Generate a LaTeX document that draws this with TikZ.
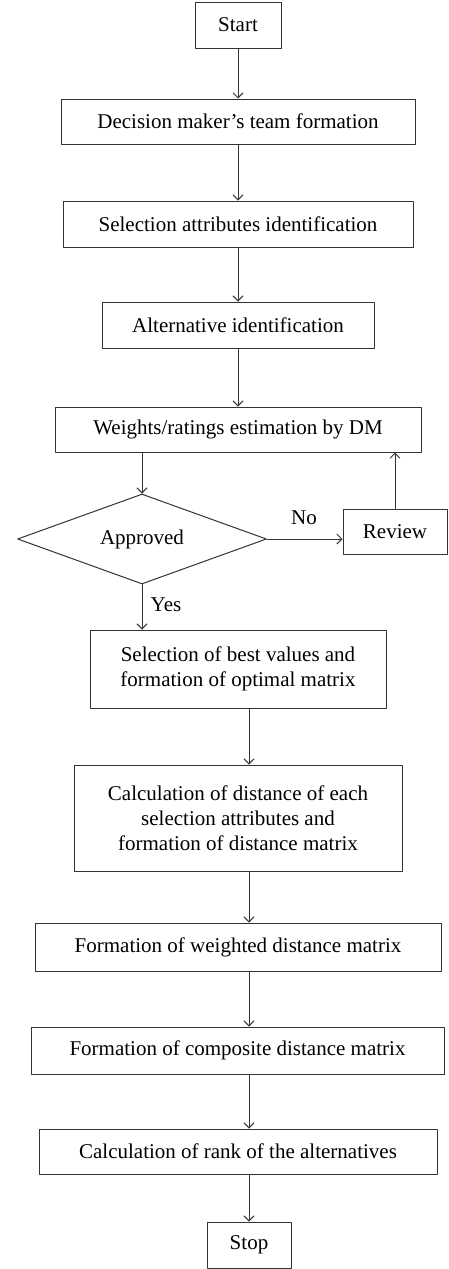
\documentclass[tikz,border=0pt]{standalone}
\usepackage{fontspec}
\setmainfont{Liberation Serif}
\usetikzlibrary{shapes.geometric,arrows.meta}

\begin{document}
\begin{tikzpicture}[x=1pt,y=-1pt,line cap=round,line join=round,>={Straight Barb[length=5pt,width=10pt]},
  every node/.style={inner sep=0pt,font=\fontsize{21}{25}\selectfont},
  stepbox/.style={draw=black!80,line width=1pt,rectangle,align=center},
  test/.style={draw=black!80,line width=1pt,diamond,aspect=2.77,minimum width=249pt,minimum height=90pt},
  flow/.style={->,draw=black!80,line width=1pt}]
  \useasboundingbox (0,0) rectangle (449,1269);
  \node[stepbox,minimum width=86pt,minimum height=46pt] (start) at (238,25) {Start};
  \node[stepbox,minimum width=354pt,minimum height=45pt] (team) at (238,121.5) {Decision maker’s team formation};
  \node[stepbox,minimum width=350pt,minimum height=46pt] (attr) at (238,224) {Selection attributes identification};
  \node[stepbox,minimum width=272pt,minimum height=46pt] (alt) at (238,325) {Alternative identification};
  \node[stepbox,minimum width=366pt,minimum height=45pt] (weights) at (238,429.5) {Weights/ratings estimation by DM};
  \node[test] (approved) at (142,539) {Approved};
  \node[stepbox,minimum width=104pt,minimum height=45pt] (review) at (395,531.5) {Review};
  \node[stepbox,minimum width=296pt,minimum height=78pt] (best) at (238,669) {Selection of best values and\\formation of optimal matrix};
  \node[stepbox,minimum width=328pt,minimum height=106pt] (calc) at (238,818) {Calculation of distance of each\\selection attributes and\\formation of distance matrix};
  \node[stepbox,minimum width=406pt,minimum height=48pt] (weighted) at (238,947) {Formation of weighted distance matrix};
  \node[stepbox,minimum width=413pt,minimum height=47pt] (composite) at (237.5,1050.5) {Formation of composite distance matrix};
  \node[stepbox,minimum width=398pt,minimum height=45pt] (rank) at (238,1151.5) {Calculation of rank of the alternatives};
  \node[stepbox,minimum width=84pt,minimum height=46pt] (stop) at (249,1245) {Stop};
  \node (no) at (304,518) {No};
  \node (yes) at (166,605) {Yes};
  \draw[flow] (start) -- (team);
  \draw[flow] (team) -- (attr);
  \draw[flow] (attr) -- (alt);
  \draw[flow] (alt) -- (weights);
  \draw[flow] (weights.south -| approved) -- (approved.north);
  \draw[flow] (approved.east) -- (approved.east -| review.west);
  \draw[flow] (review.north) -- (review.north |- weights.south);
  \draw[flow] (approved.south) -- (approved.south |- best.north);
  \draw[flow] (best.south -| stop) -- (calc.north -| stop);
  \draw[flow] (calc.south -| stop) -- (weighted.north -| stop);
  \draw[flow] (weighted.south -| stop) -- (composite.north -| stop);
  \draw[flow] (composite.south -| stop) -- (rank.north -| stop);
  \draw[flow] (rank.south -| stop) -- (stop.north);
\end{tikzpicture}
\end{document}
